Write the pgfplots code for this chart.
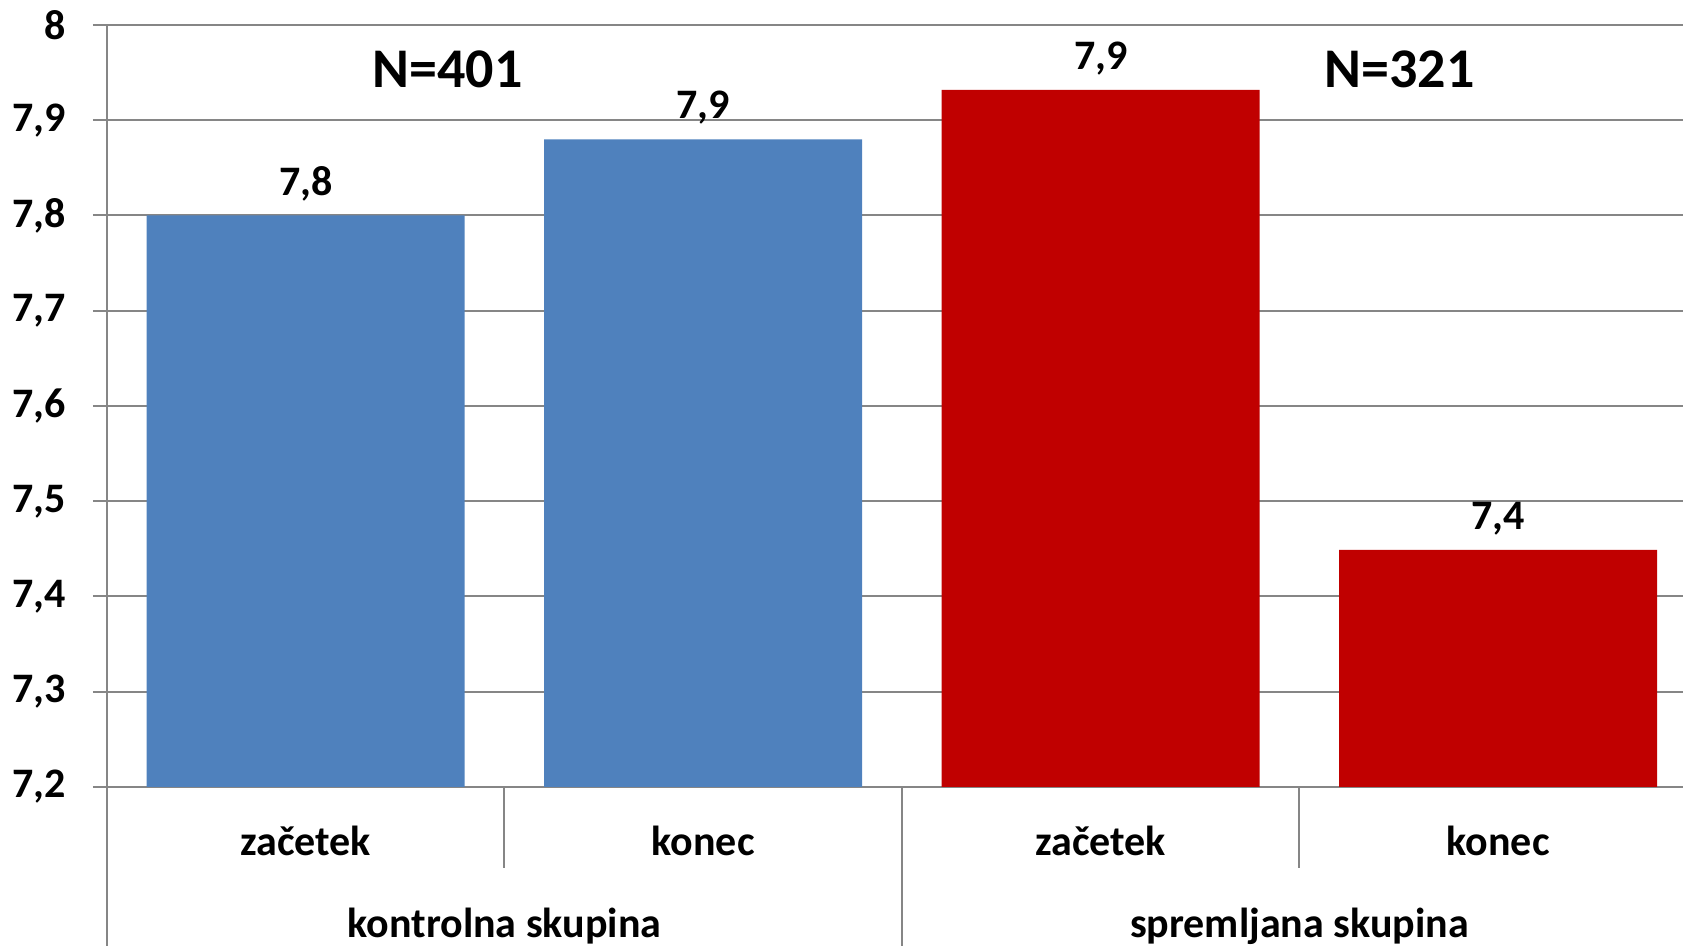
\documentclass[border=0pt]{standalone}
\usepackage{pgfplots}
\pgfplotsset{compat=1.18}
\usepackage{fontspec}
\setmainfont{Carlito}
\definecolor{cblue}{HTML}{4F81BD}
\definecolor{cred}{HTML}{C00000}
\definecolor{cgrid}{HTML}{868686}
\begin{document}
\begin{tikzpicture}
\begin{axis}[
  scale only axis, width=394pt, height=190.5pt,
  xmin=-0.5, xmax=3.465, ymin=7.2, ymax=8,
  ytick={7.2,7.3,7.4,7.5,7.6,7.7,7.8,7.9,8},
  xtick={0,1,2,3}, xticklabels={začetek,konec,začetek,konec},
  x tick style={draw=none},
  xticklabel style={anchor=center, yshift=-10pt},
  ytick style={draw=cgrid, line width=0.5pt},
  tick align=outside, major tick length=3.5pt,
  ymajorgrids, grid style={cgrid, line width=0.5pt},
  axis x line*=bottom, axis y line*=left,
  axis line style={draw=cgrid, line width=0.5pt, -},
  ticklabel style={font=\fontsize{10.5}{12}\selectfont\bfseries},
  /pgf/number format/.cd, use comma, fixed, precision=1, assume math mode=true,
  /pgfplots/.cd,
  yticklabel style={anchor=east, xshift=-3.25pt},
  ybar, bar width=0.8,
  clip=false,
  nodes near coords, point meta=explicit symbolic,
  every node near coord/.append style={font=\fontsize{10.5}{12}\selectfont\bfseries, inner sep=0pt, anchor=south, yshift=3.5pt},
]
\addplot[bar shift=0pt, fill=cblue, draw=none] coordinates {(0,7.80) [7,8] (1,7.88) [7,9]};
\addplot[bar shift=0pt, fill=cred, draw=none] coordinates {(2,7.932) [7,9] (3,7.449) [7,4]};
\coordinate (bl) at (rel axis cs:0,0);
\coordinate (tr) at (rel axis cs:1,1);
\draw[cgrid, line width=0.5pt] (axis cs:-0.5,7.2) -- ([yshift=-45pt]axis cs:-0.5,7.2);
\draw[cgrid, line width=0.5pt] (axis cs:0.5,7.2) -- ([yshift=-20.25pt]axis cs:0.5,7.2);
\draw[cgrid, line width=0.5pt] (axis cs:1.5,7.2) -- ([yshift=-45pt]axis cs:1.5,7.2);
\draw[cgrid, line width=0.5pt] (axis cs:2.5,7.2) -- ([yshift=-20.25pt]axis cs:2.5,7.2);
\node[font=\fontsize{10.5}{12}\selectfont\bfseries] at ([yshift=-34.8pt]axis cs:0.5,7.2) {kontrolna skupina};
\node[font=\fontsize{10.5}{12}\selectfont\bfseries] at ([yshift=-34.8pt]axis cs:2.5,7.2) {spremljana skupina};
\node[font=\fontsize{14}{16}\selectfont\bfseries] at (axis cs:0.357,7.953) {N=401};
\node[font=\fontsize{14}{16}\selectfont\bfseries] at (axis cs:2.752,7.953) {N=321};
\end{axis}
\pgfresetboundingbox
\path[use as bounding box] ([shift={(-26.75pt,-39.75pt)}]bl) rectangle ([yshift=6.25pt]tr);
\end{tikzpicture}
\end{document}
